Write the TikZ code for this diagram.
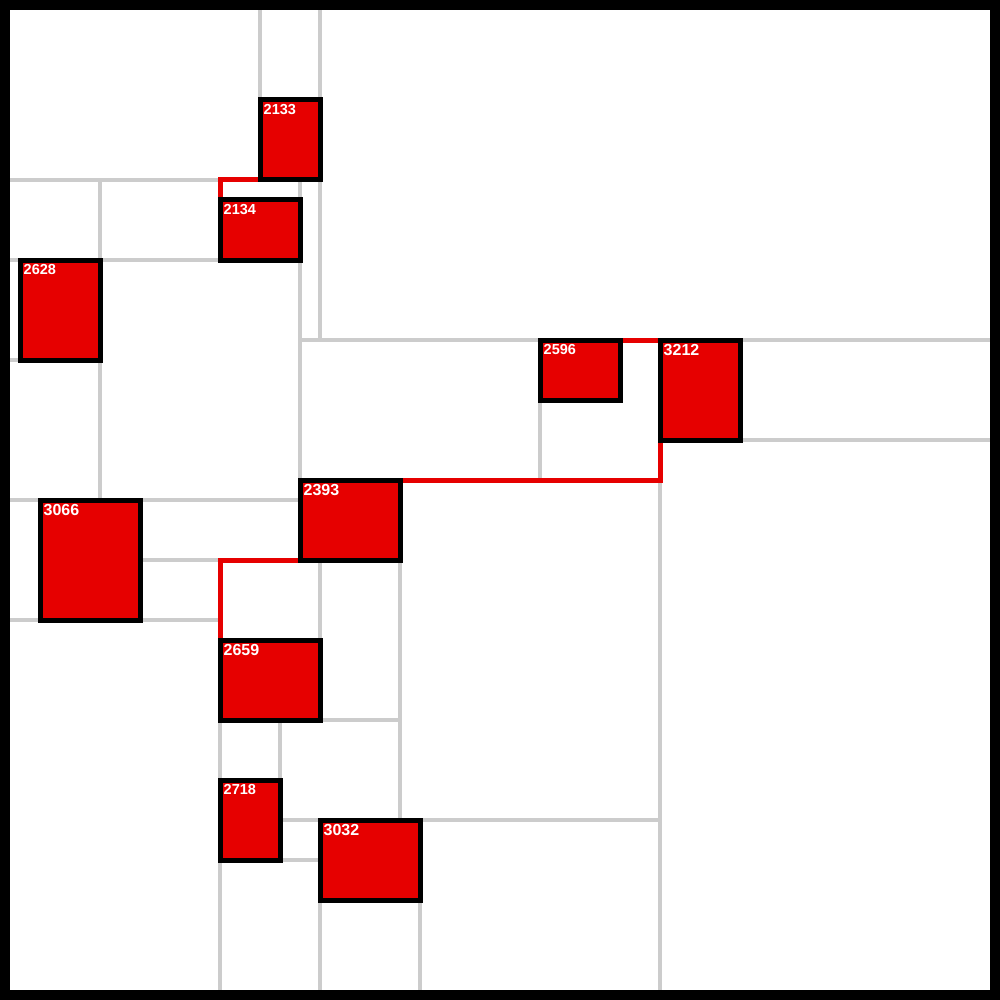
\documentclass[tikz,border=0pt]{standalone}
\usepackage{fontspec}
\setmainfont{Liberation Sans}
\usepackage{tikz}
\usetikzlibrary{positioning,backgrounds}
\definecolor{cellGray}{HTML}{CCCCCC}
\definecolor{blockRed}{HTML}{E60000}

\begin{document}
\begin{tikzpicture}[x=1pt, y=-1pt,
    cut/.style={draw=cellGray, line width=4pt},
    link/.style={draw=blockRed, line width=5pt},
    block/.style={draw=black, fill=blockRed, line width=5pt, inner sep=0pt, outer sep=0pt, anchor=north west},
    tag/.style={text=white, font=\bfseries\fontsize{14.5}{14.5}\selectfont, inner sep=0pt, anchor=north west, xshift=3.5pt, yshift=-4.5pt},
    bigtag/.style={tag, font=\bfseries\fontsize{16}{16}\selectfont}]
  \useasboundingbox (0,0) rectangle (1000,1000);

  % partition cuts
  \begin{scope}[on background layer]
    \draw[cut] (260,10) -- (260,100);
    \draw[cut] (320,10) -- (320,340);
    \draw[cut] (10,180) -- (260,180);
    \draw[cut] (100,180) -- (100,500);
    \draw[cut] (10,260) -- (220,260);
    \draw[cut] (300,180) -- (300,480);
    \draw[cut] (300,340) -- (990,340);
    \draw[cut] (10,360) -- (20,360);
    \draw[cut] (740,440) -- (990,440);
    \draw[cut] (540,400) -- (540,480);
    \draw[cut] (660,480) -- (660,990);
    \draw[cut] (10,500) -- (300,500);
    \draw[cut] (140,560) -- (220,560);
    \draw[cut] (10,620) -- (220,620);
    \draw[cut] (320,560) -- (320,640);
    \draw[cut] (400,560) -- (400,820);
    \draw[cut] (320,720) -- (400,720);
    \draw[cut] (280,720) -- (280,780);
    \draw[cut] (220,720) -- (220,780);
    \draw[cut] (220,860) -- (220,990);
    \draw[cut] (280,820) -- (660,820);
    \draw[cut] (280,860) -- (320,860);
    \draw[cut] (320,900) -- (320,990);
    \draw[cut] (420,900) -- (420,990);
  \end{scope}

  % blocks
  \node[block, minimum width=60pt, minimum height=80pt] (b2133) at (260,100) {};
  \node[block, minimum width=80pt, minimum height=60pt] (b2134) at (220,200) {};
  \node[block, minimum width=80pt, minimum height=100pt] (b2628) at (20,260) {};
  \node[block, minimum width=80pt, minimum height=60pt] (b2596) at (540,340) {};
  \node[block, minimum width=80pt, minimum height=100pt] (b3212) at (660,340) {};
  \node[block, minimum width=100pt, minimum height=80pt] (b2393) at (300,480) {};
  \node[block, minimum width=100pt, minimum height=120pt] (b3066) at (40,500) {};
  \node[block, minimum width=100pt, minimum height=80pt] (b2659) at (220,640) {};
  \node[block, minimum width=60pt, minimum height=80pt] (b2718) at (220,780) {};
  \node[block, minimum width=100pt, minimum height=80pt] (b3032) at (320,820) {};

  \node[tag] (t2133) at (b2133.north west) {2133};
  \node[tag] (t2134) at (b2134.north west) {2134};
  \node[tag] (t2628) at (b2628.north west) {2628};
  \node[tag] (t2596) at (b2596.north west) {2596};
  \node[bigtag] (t3212) at (b3212.north west) {3212};
  \node[bigtag] (t2393) at (b2393.north west) {2393};
  \node[bigtag] (t3066) at (b3066.north west) {3066};
  \node[bigtag] (t2659) at (b2659.north west) {2659};
  \node[tag] (t2718) at (b2718.north west) {2718};
  \node[bigtag] (t3032) at (b3032.north west) {3032};

  % red links
  \begin{scope}[on background layer]
    \draw[link] (b2133.south west) -| (b2134.north west);
    \draw[link] (b2596.north east) -- (b3212.north west);
    \draw[link] (b2393.north east) -| (b3212.south west);
    \draw[link] (b2393.south west) -| (b2659.north west);
  \end{scope}

  \draw[line width=10pt] (5,5) rectangle (995,995); % frame
\end{tikzpicture}
\end{document}
